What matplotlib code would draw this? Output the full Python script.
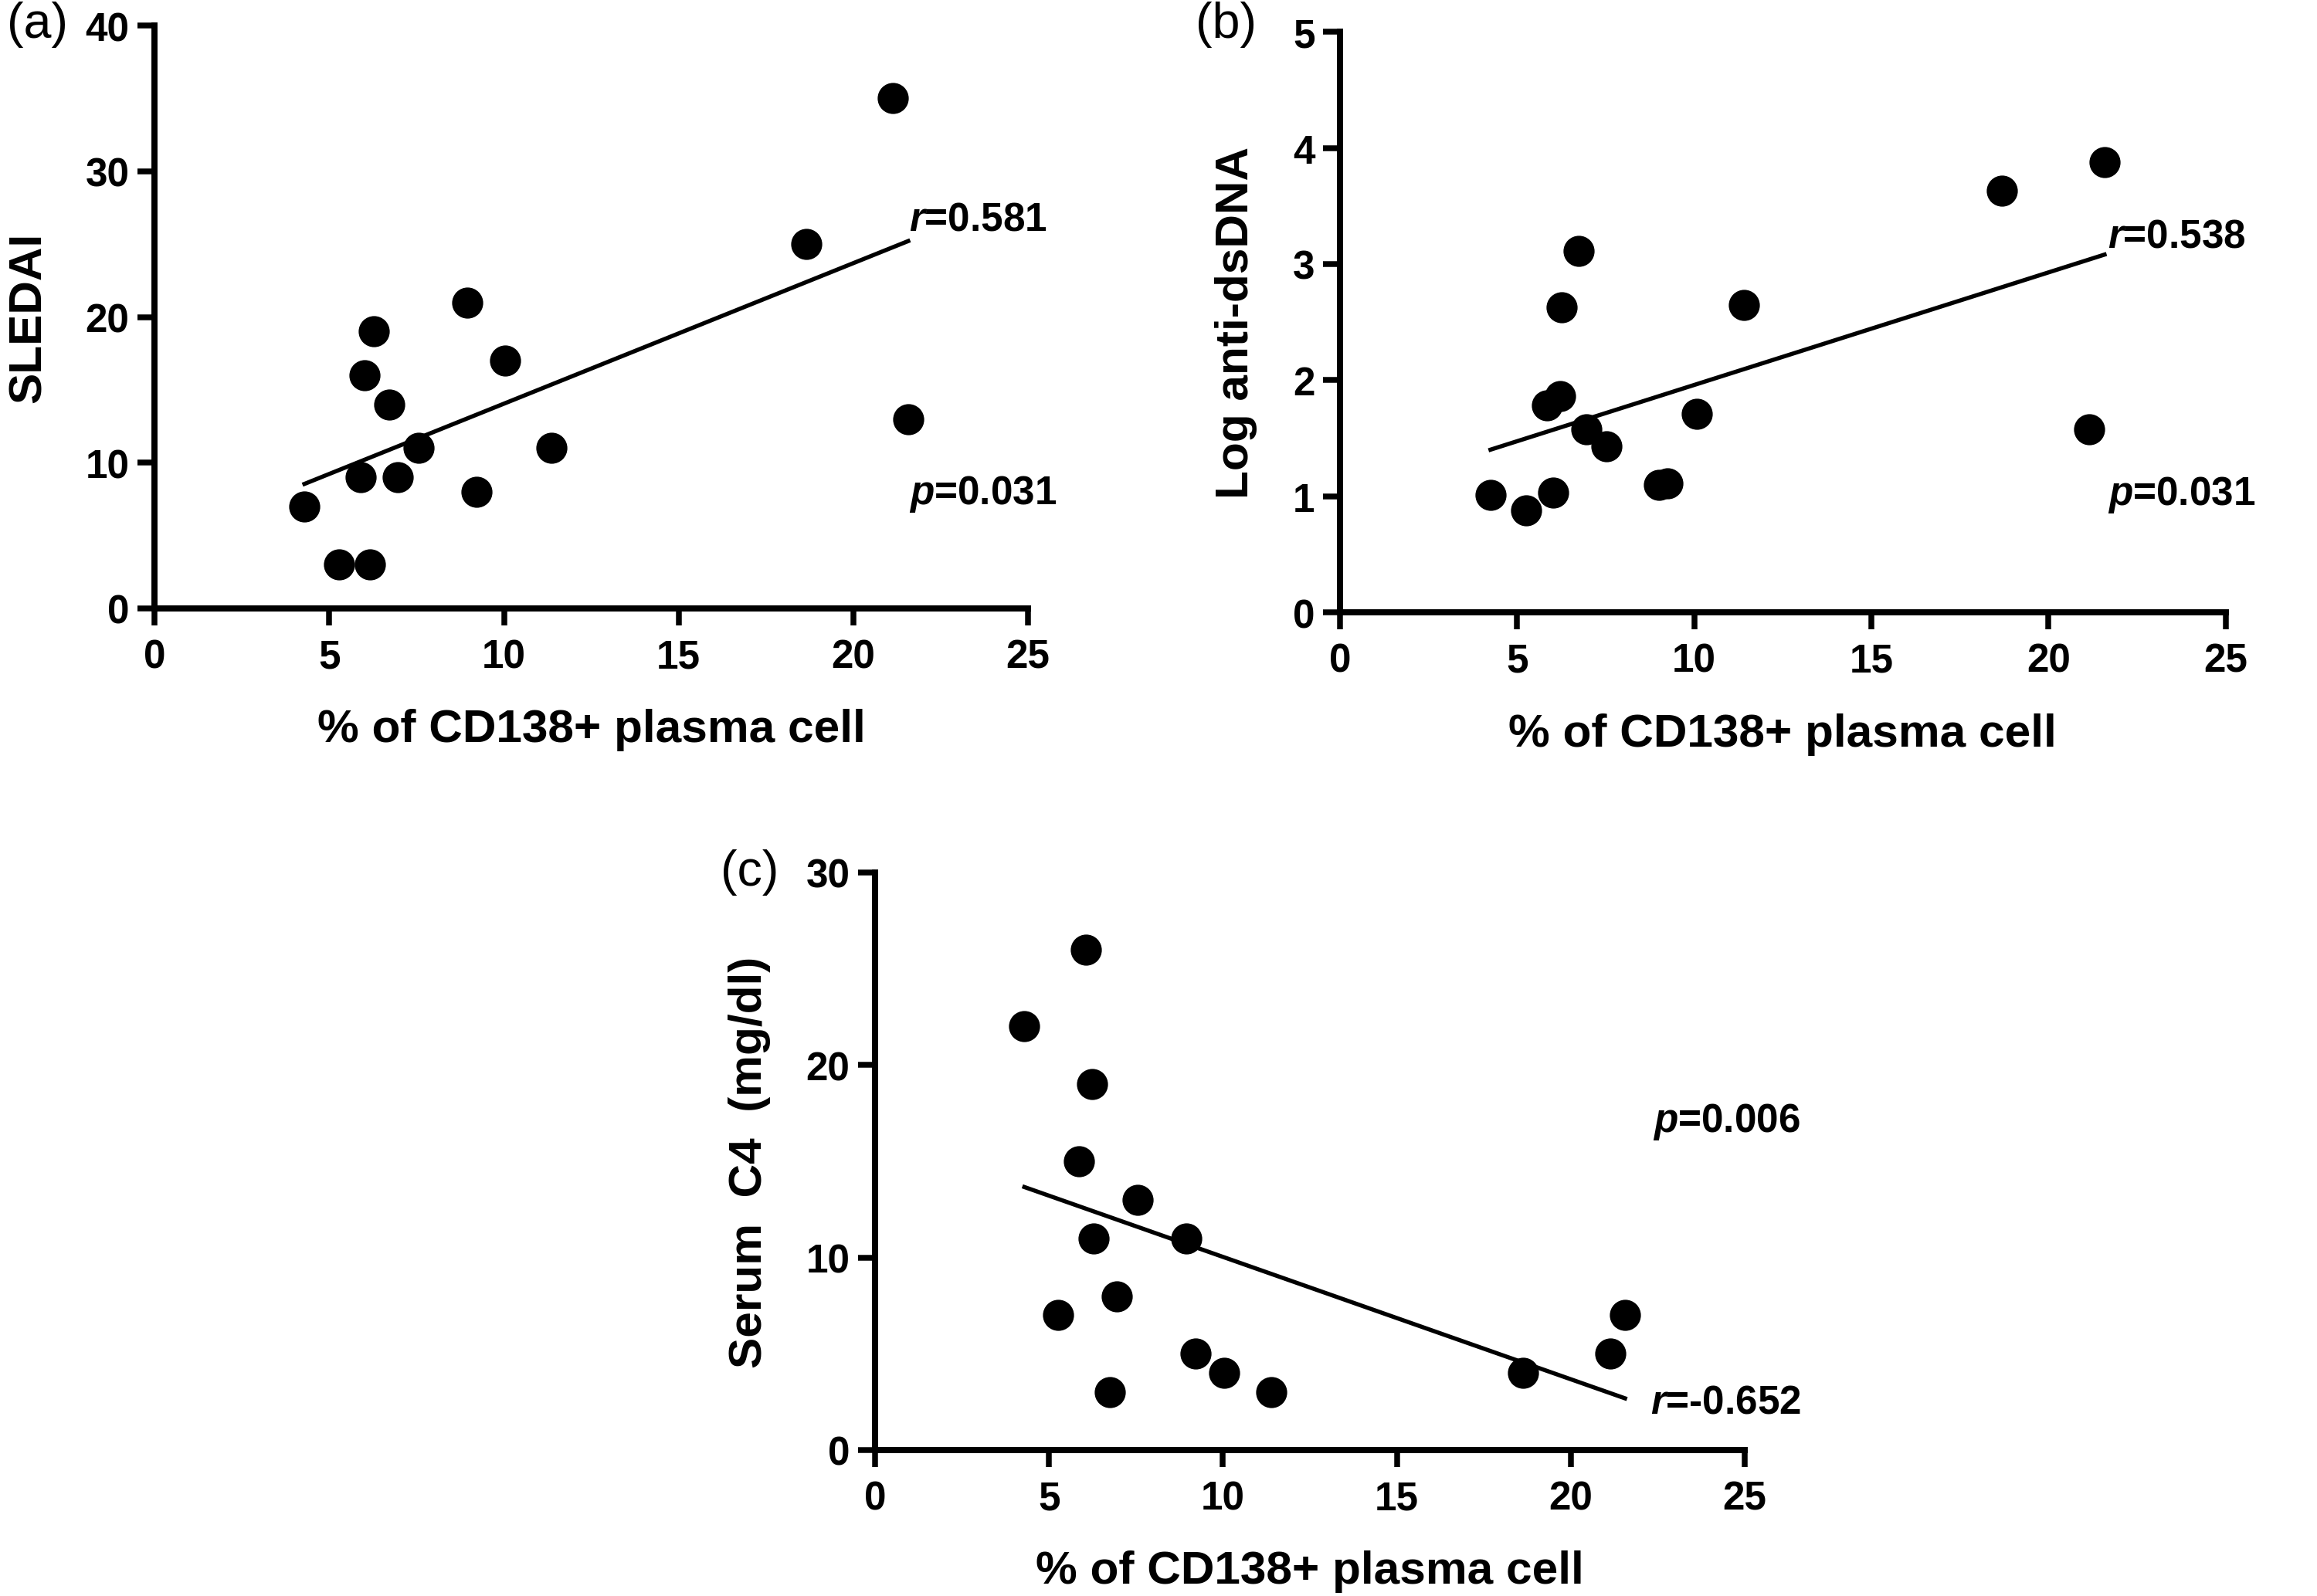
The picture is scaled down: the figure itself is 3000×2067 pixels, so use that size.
import numpy as np
import matplotlib.pyplot as plt

plt.rcParams['font.family'] = ['Liberation Sans', 'DejaVu Sans']
plt.rcParams['mathtext.fontset'] = 'custom'
plt.rcParams['mathtext.it'] = 'Liberation Sans:italic:bold'
plt.rcParams['mathtext.rm'] = 'Liberation Sans:bold'

# % of CD138+ plasma cells vs. clinical measures
x_a = [4.29, 5.29, 6.17, 5.89, 6.01, 6.28, 6.71, 6.95, 7.55, 8.96, 9.21, 10.03, 11.36, 18.66, 21.12, 21.57]
sledai = [7, 3, 3, 9, 16, 19, 14, 9, 11, 21, 8, 17, 11, 25, 35, 13]

x_b = [4.25, 5.25, 6.02, 5.85, 6.22, 6.26, 6.73, 6.95, 7.52, 9.00, 9.24, 10.07, 11.41, 18.68, 21.58, 21.15]
log_dsdna = [1.01, 0.88, 1.03, 1.78, 1.86, 2.63, 3.11, 1.58, 1.43, 1.10, 1.11, 1.71, 2.65, 3.63, 3.88, 1.58]

x_c = [4.29, 6.05, 6.24, 5.86, 7.54, 6.29, 8.94, 6.95, 5.27, 9.22, 10.03, 6.75, 11.38, 18.63, 21.13, 21.56]
serum_c4 = [22, 26, 19, 15, 13, 11, 11, 8, 7, 5, 4, 3, 3, 4, 5, 7]

xlabel = '% of CD138+ plasma cell'


def panel(ax, x, y, ymax, yticks, ylabel, tag, r_txt, r_pos, p_txt, p_pos):
    x = np.asarray(x)
    y = np.asarray(y)
    ax.scatter(x, y, s=75, color='black', zorder=3, clip_on=False)
    k, b = np.polyfit(x, y, 1)
    xs = np.array([x.min(), x.max()])
    ax.plot(xs, k * xs + b, color='black', lw=1.3)

    ax.set_xlim(0, 25)
    ax.set_ylim(0, ymax)
    ax.set_xticks([0, 5, 10, 15, 20, 25])
    ax.set_yticks(yticks)
    for s in ['top', 'right']:
        ax.spines[s].set_visible(False)
    for s in ['left', 'bottom']:
        ax.spines[s].set_linewidth(1.9)
    ax.tick_params(length=5.3, width=1.8, labelsize=12.3)
    ax.tick_params(axis='x', pad=4)
    ax.tick_params(axis='y', pad=2.5)
    for lab in ax.get_xticklabels() + ax.get_yticklabels():
        lab.set_fontweight('bold')
    ax.set_xlabel(xlabel, fontsize=14.5, fontweight='bold', labelpad=10)
    ax.set_ylabel(ylabel, fontsize=14.5, fontweight='bold', labelpad=11)

    for txt, pos in [(r_txt, r_pos), (p_txt, p_pos)]:
        ax.text(pos[0], pos[1], txt, fontsize=12.3, fontweight='bold',
                ha='left', va='center')

    ax.text(tag[0], tag[1], tag[2], transform=ax.figure.transFigure,
            fontsize=15.5, ha='left', va='top')


fig = plt.figure(figsize=(10, 6.8933), dpi=300)
ax_a = fig.add_axes([0.0667, 0.6185, 0.377, 0.365])
ax_b = fig.add_axes([0.5783, 0.616, 0.3823, 0.3636])
ax_c = fig.add_axes([0.3777, 0.0914, 0.3753, 0.3617])

panel(ax_a, x_a, sledai, 40, [0, 10, 20, 30, 40], 'SLEDAI',
      (0.003, 0.999, '(a)'),
      r'$\it{r}$=0.581', (21.6, 26.7), r'$\it{p}$=0.031', (21.6, 7.9))
panel(ax_b, x_b, log_dsdna, 5, [0, 1, 2, 3, 4, 5], 'Log anti-dsDNA',
      (0.516, 0.999, '(b)'),
      r'$\it{r}$=0.538', (21.67, 3.24), r'$\it{p}$=0.031', (21.67, 1.02))
panel(ax_c, x_c, serum_c4, 30, [0, 10, 20, 30], 'Serum  C4  (mg/dl)',
      (0.311, 0.468, '(c)'),
      r'$\it{r}$=-0.652', (22.3, 2.5), r'$\it{p}$=0.006', (22.35, 17.1))

fig.savefig('out.png', dpi=300)
